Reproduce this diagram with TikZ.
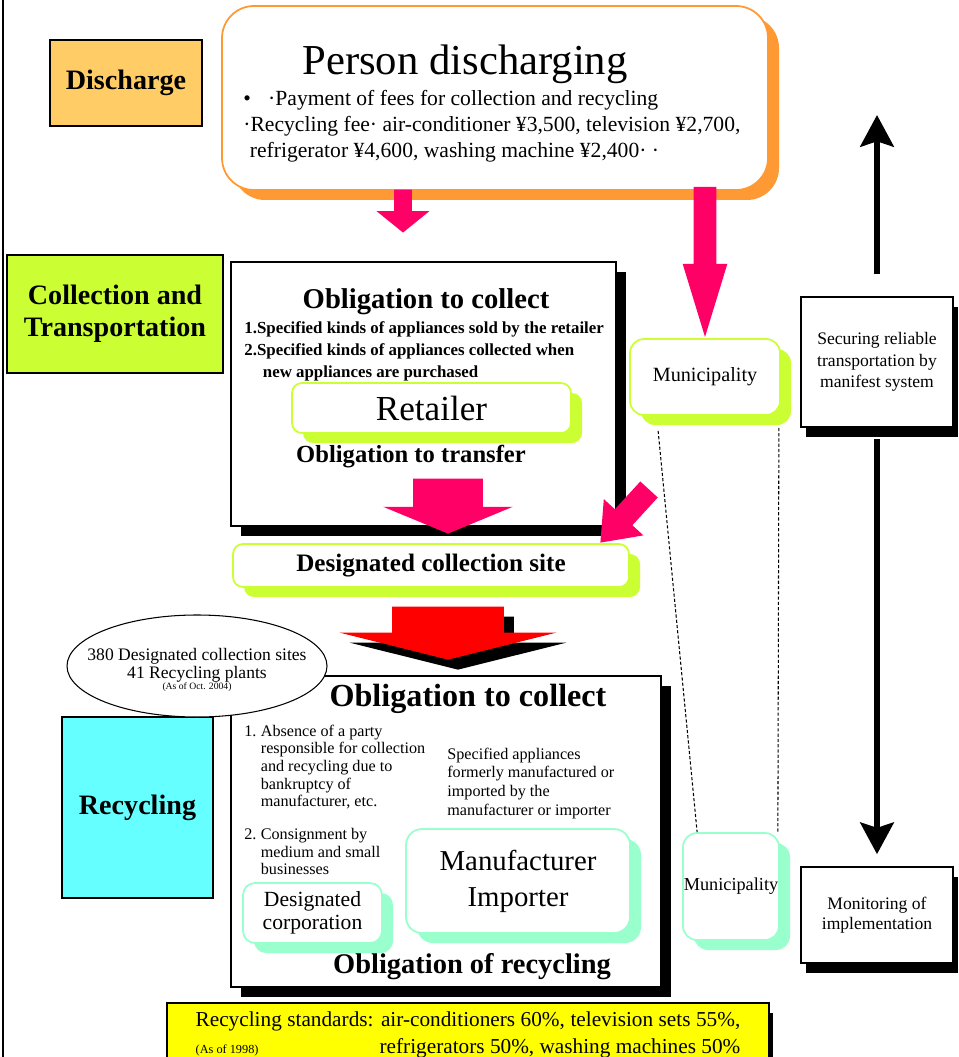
\documentclass[tikz,border=0pt]{standalone}
\usepackage{fontspec}
\setmainfont{Liberation Serif}
\usetikzlibrary{math}
\usetikzlibrary{shapes.geometric,shapes.arrows}
\usetikzlibrary{arrows.meta,shadows,positioning}
\usepackage{xcolor}

\definecolor{discharge}{HTML}{FFCC66}
\definecolor{peach}{HTML}{FF9933}
\definecolor{lime}{HTML}{CCFF33}
\definecolor{aqua}{HTML}{99FFCC}
\definecolor{cyanbox}{HTML}{66FFFF}
\definecolor{pinkarrow}{HTML}{FF0066}
\definecolor{standard}{HTML}{FFFF00}

\newcommand{\fs}[2]{\fontsize{#1}{#2}\selectfont}

\begin{document}
\begin{tikzpicture}[x=0.02cm,y=-0.02cm]

\tikzmath{
	\px = 0.02cm;
}

\tikzset{
  stage/.style={draw=black, line width=0.9pt, align=center, inner sep=0pt,
    font=\bfseries\fs{16}{18.2}},
  frame/.style={draw=black, fill=white, line width=0.9pt, inner sep=0pt, align=center,
    drop shadow={fill=black, opacity=1, shadow xshift=#1, shadow yshift=10}},
  frame/.default=10,
  soft box/.style={draw=#1, fill=white, line width=1pt, rounded corners=10*\px,
    align=center, inner sep=0pt,
    drop shadow={fill=#1, opacity=1, shadow xshift=11, shadow yshift=10}},
  pink arrow/.style={single arrow, fill=pinkarrow, draw=none, inner xsep=0pt,
    minimum width=1pt, anchor=tip},
  flow arrow/.style={single arrow, fill=#1, draw=none, rotate=270, inner xsep=0pt,
    inner ysep=55.5*\px, minimum width=1pt, single arrow head extend=52.5*\px,
    single arrow tip angle=152, minimum height=53*\px, anchor=tip},
  bar arrow/.style={line width=3.4pt, -{Stealth[length=18pt, width=19pt, inset=3pt]}},
  dash line/.style={line width=0.6pt, dash pattern=on 1.8pt off 1.2pt},
  note/.style={inner sep=0pt, align=left},
}

\useasboundingbox (0,0) rectangle (958,1057);
\draw[line width=1.1pt] (3,0) -- (3,1057);

\node[stage, fill=discharge, minimum width=152*\px, minimum height=86*\px] (discharge) at (126,83) {Discharge};
\node[stage, fill=lime, minimum width=216*\px, minimum height=118*\px] (collect) at (115,314) {Collection and\\Transportation};
\node[stage, fill=cyanbox, minimum width=151*\px, minimum height=181*\px] (recycle) at (137.5,807.5) {Recycling};

\node[soft box=peach, rounded corners=32*\px, minimum width=546*\px, minimum height=184*\px] (person) at (495,98) {};
\node[font=\fs{24.3}{28}] (personT) at (465,64) {Person discharging};
\node[note, anchor=west, font=\fs{12.3}{14.8}] (personL) at (243,126)
  {•\hspace{0.8em}·Payment of fees for collection and recycling\\
   ·Recycling fee· air-conditioner ¥3,500, television ¥2,700,\\
   \hspace{0.3em}refrigerator ¥4,600, washing machine ¥2,400· ·};

\node[frame, minimum width=385*\px, minimum height=264*\px] (shop) at (423.5,394) {};
\node[font=\bfseries\fs{16.3}{18}] (shopT) at (426,302) {Obligation to collect};
\node[note, anchor=west, font=\bfseries\fs{9.6}{12.5}] (shopL) at (244,351)
  {1.Specified kinds of appliances sold by the retailer\\
   2.Specified kinds of appliances collected when\\
   \hspace{1.1em}new appliances are purchased};
\node[soft box=lime, minimum width=279*\px, minimum height=50*\px, font=\fs{20}{24}] (retailer) at (431.5,408) {Retailer};
\node[font=\bfseries\fs{14}{16}] (shopB) at (411,457) {Obligation to transfer};

\node[soft box=lime, rounded corners=14*\px, minimum width=150*\px, minimum height=76*\px, font=\fs{11.5}{13}] (muniA) at (705,377) {Municipality};
\node[frame=5, minimum width=152*\px, minimum height=130*\px, font=\fs{10}{12.2}] (secure) at (877,362) {Securing reliable\\transportation by\\manifest system};

\node[soft box=lime, minimum width=396*\px, minimum height=43*\px, font=\bfseries\fs{14.3}{16}] (site) at (431,565.5) {Designated collection site};

\node[frame, minimum width=430*\px, minimum height=311*\px] (maker) at (446,831.5) {};
\node[ellipse, draw=black, fill=white, line width=0.6pt, inner sep=0pt,
  minimum width=260*\px, minimum height=102*\px] (count) at (197,666) {};
\node[align=center, inner sep=0pt, font=\fs{10}{10.3}] (countT) at (197,670)
  {380 Designated collection sites\\41 Recycling plants\\[-4pt]{\fs{5.5}{6}(As of Oct. 2004)}};
\node[font=\bfseries\fs{18.3}{20}] (makerT) at (468,699) {Obligation to collect};
\node[note, anchor=west, font=\fs{9.2}{10}] (makerL) at (244,768)
  {\begin{tabular}{@{}l@{\hspace{2.5pt}}l@{}}
   1. & Absence of a party\\ & responsible for collection\\ & and recycling due to\\ & bankruptcy of\\ & manufacturer, etc.
   \end{tabular}};
\node[note, anchor=west, font=\fs{9.2}{10}] (makerM) at (244,853.5)
  {\begin{tabular}{@{}l@{\hspace{2.5pt}}l@{}}
   2. & Consignment by\\ & medium and small\\ & businesses
   \end{tabular}};
\node[note, anchor=west, font=\fs{9.2}{10.8}] (makerR) at (447,783.5)
  {Specified appliances\\formerly manufactured or\\imported by the\\manufacturer or importer};
\node[soft box=aqua, rounded corners=12*\px, minimum width=139*\px, minimum height=60*\px, font=\fs{12.3}{13}] (corp) at (312.5,913) {Designated\\corporation};
\node[soft box=aqua, rounded corners=16*\px, minimum width=224*\px, minimum height=104*\px, font=\fs{16.4}{20.5}] (importer) at (518,881) {Manufacturer\\Importer};
\node[font=\bfseries\fs{16.2}{18}] (makerB) at (472,967) {Obligation of recycling};

\node[soft box=aqua, rounded corners=14*\px, minimum width=96*\px, minimum height=107*\px, font=\fs{10.4}{12}] (muniB) at (731,886.5) {Municipality};
\node[frame=5, minimum width=152*\px, minimum height=96*\px, font=\fs{10}{11.4}] (monitor) at (877,915) {Monitoring of\\implementation};

\node[frame=4, fill=standard, minimum width=602*\px, minimum height=64*\px, font=\fs{12.1}{15.4}] (rule) at (468,1035)
  {\makebox[310pt][s]{Recycling standards: air-conditioners 60\%, television sets 55\%,}\\
   \makebox[310pt][s]{{\fs{7}{8}(As of 1998)}\hfill refrigerators 50\%, washing machines 50\%}};

\node[pink arrow, rotate=270, inner ysep=8.5*\px, single arrow head extend=17.5*\px, single arrow tip angle=102, minimum height=43*\px] (dropA) at (403,233) {};
\node[pink arrow, rotate=270, inner ysep=11*\px, single arrow head extend=11*\px, single arrow tip angle=34, minimum height=150*\px] (dropB) at (muniA.north) {};
\node[pink arrow, rotate=270, inner ysep=34.5*\px, single arrow head extend=30*\px, single arrow tip angle=135, minimum height=55*\px] (dropC) at (448,534) {};
\node[pink arrow, rotate=227.5, inner ysep=11.5*\px, single arrow head extend=15*\px, single arrow tip angle=76, minimum height=72*\px] (dropD) at (600,543) {};
\node[flow arrow=black] (flowShade) at (458,670) {};
\node[flow arrow=red] (flow) at (448,660) {};

\coordinate (topEnd) at (877,115);
\draw[bar arrow, shorten <=22*\px] (secure.north) -- (topEnd);
\draw[bar arrow, shorten <=11*\px, shorten >=12*\px] (secure.south) -- (monitor.north);

\draw[dash line] ([xshift=29*\px, yshift=-15*\px]muniA.south west) -- ([xshift=15*\px]muniB.north west);
\draw[dash line] ([xshift=-2*\px, yshift=-12*\px]muniA.south east) -- ([xshift=-2*\px]muniB.north east);

\end{tikzpicture}
\end{document}
